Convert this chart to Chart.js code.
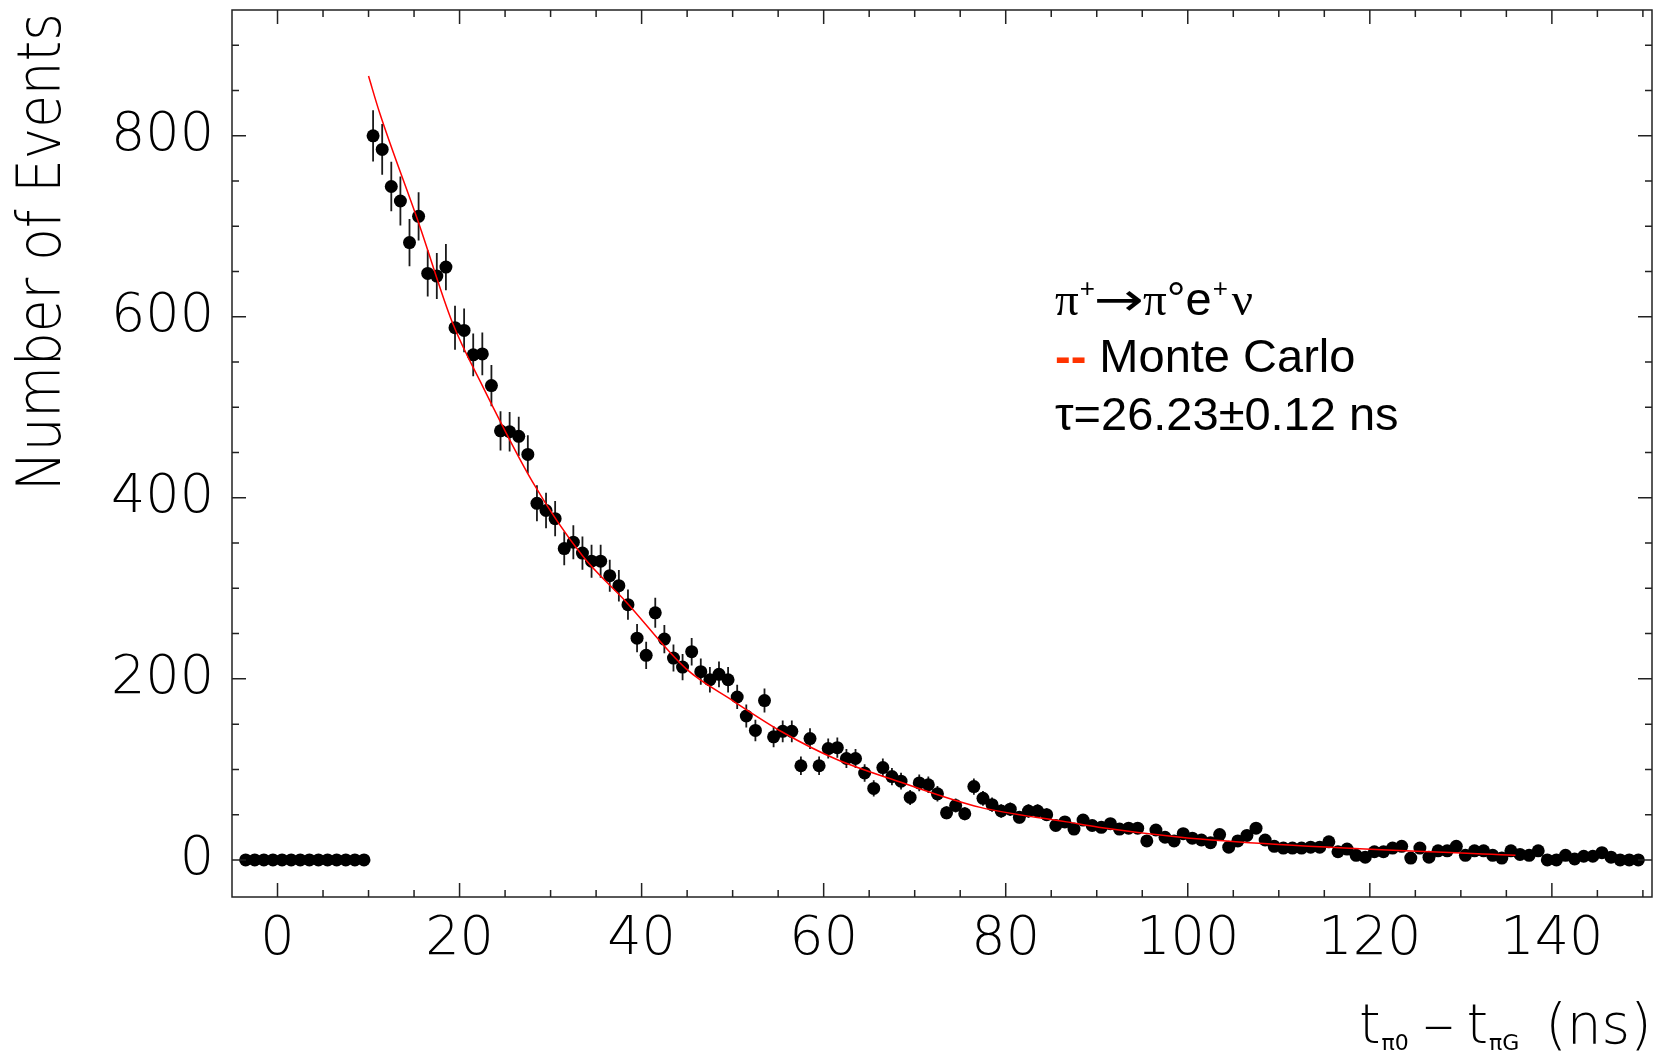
<!DOCTYPE html>
<html>
<head>
<meta charset="utf-8">
<script src="https://cdn.jsdelivr.net/npm/chart.js@4.4.1/dist/chart.umd.min.js"></script>
<style>
  html, body { margin: 0; padding: 0; background: #fff; }
  #wrap { width: 1663px; height: 1054px; }
</style>
</head>
<body>
<div id="wrap"><canvas id="decayChart" width="1663" height="1054"></canvas></div>
<script>
// histogram bins (ns), 1 ns wide
const binCenters = [
  -3.5, -2.5, -1.5, -0.5, 0.5, 1.5, 2.5, 3.5, 4.5, 5.5, 6.5, 7.5, 8.5, 9.5,
  10.5, 11.5, 12.5, 13.5, 14.5, 15.5, 16.5, 17.5, 18.5, 19.5,
  20.5, 21.5, 22.5, 23.5, 24.5, 25.5, 26.5, 27.5, 28.5, 29.5,
  30.5, 31.5, 32.5, 33.5, 34.5, 35.5, 36.5, 37.5, 38.5, 39.5,
  40.5, 41.5, 42.5, 43.5, 44.5, 45.5, 46.5, 47.5, 48.5, 49.5,
  50.5, 51.5, 52.5, 53.5, 54.5, 55.5, 56.5, 57.5, 58.5, 59.5,
  60.5, 61.5, 62.5, 63.5, 64.5, 65.5, 66.5, 67.5, 68.5, 69.5,
  70.5, 71.5, 72.5, 73.5, 74.5, 75.5, 76.5, 77.5, 78.5, 79.5,
  80.5, 81.5, 82.5, 83.5, 84.5, 85.5, 86.5, 87.5, 88.5, 89.5,
  90.5, 91.5, 92.5, 93.5, 94.5, 95.5, 96.5, 97.5, 98.5, 99.5,
  100.5, 101.5, 102.5, 103.5, 104.5, 105.5, 106.5, 107.5, 108.5, 109.5,
  110.5, 111.5, 112.5, 113.5, 114.5, 115.5, 116.5, 117.5, 118.5, 119.5,
  120.5, 121.5, 122.5, 123.5, 124.5, 125.5, 126.5, 127.5, 128.5, 129.5,
  130.5, 131.5, 132.5, 133.5, 134.5, 135.5, 136.5, 137.5, 138.5, 139.5,
  140.5, 141.5, 142.5, 143.5, 144.5, 145.5, 146.5, 147.5, 148.5, 149.5
];
const counts = [
  0, 0, 0, 0, 0, 0, 0, 0, 0, 0, 0, 0, 0, 0,
  800, 785, 744, 728, 682, 711, 648, 645, 655, 588,
  585, 558, 559, 524, 474, 473, 468, 448, 394, 386,
  377, 344, 351, 339, 330, 330, 314, 303, 282, 245,
  226, 273, 244, 223, 213, 230, 208, 199, 205, 199,
  180, 159, 143, 176, 136, 142, 142, 104, 134, 104,
  123, 124, 112, 112, 96, 79, 102, 92, 87, 69,
  85, 83, 73, 52, 60, 51, 81, 68, 61, 54,
  56, 47, 54, 54, 50, 38, 42, 34, 44, 38,
  36, 40, 34, 35, 35, 21, 33, 25, 21, 29,
  24, 22, 19, 28, 14, 21, 27, 35, 22, 15,
  13, 13, 13, 14, 14, 20, 9, 12, 5, 3,
  9, 9, 13, 15, 2, 13, 3, 10, 10, 15,
  5, 10, 10, 5, 2, 10, 6, 5, 10, 0,
  0, 5, 1, 4, 4, 8, 3, 0, 0, 0
];
// Monte Carlo curve
const fitTimes  = [10, 11.2, 15.6, 19.2, 22.5, 28, 33.5, 38.3, 44.9, 50, 55.5, 61.2, 68.4, 77.2, 86.7, 90.2, 99.2, 110, 136];
const fitValues = [866, 826, 701, 594, 524, 418, 336, 285, 211, 176, 141, 112, 86, 58, 42, 36, 25, 17, 5];

const xTickValues = [0, 20, 40, 60, 80, 100, 120, 140];
const yTickValues = [0, 200, 400, 600, 800];
const xMinorStep = 5;
const yMinorStep = 50;

const thinFont = "'DejaVu Sans ExtraLight', 'DejaVu Sans', sans-serif";
const sansFont = "'Liberation Sans', Arial, sans-serif";
const serifFont = "'Liberation Serif', 'Times New Roman', serif";

// frame with inward ticks on all four sides
const framePlugin = {
  id: 'frame',
  afterDatasetsDraw(chart) {
    const { ctx, chartArea: a, scales: { x, y } } = chart;
    ctx.save();
    ctx.strokeStyle = '#222';
    ctx.lineWidth = 1.5;
    ctx.strokeRect(a.left, a.top, a.right - a.left, a.bottom - a.top);
    ctx.beginPath();
    for (let v = Math.ceil(x.min / xMinorStep) * xMinorStep; v <= x.max; v += xMinorStep) {
      const px = x.getPixelForValue(v);
      if (px <= a.left + 2 || px >= a.right - 2) continue;
      const len = xTickValues.includes(v) ? 14 : 7;
      ctx.moveTo(px, a.bottom); ctx.lineTo(px, a.bottom - len);
      ctx.moveTo(px, a.top); ctx.lineTo(px, a.top + len);
    }
    for (let v = Math.ceil(y.min / yMinorStep) * yMinorStep; v <= y.max; v += yMinorStep) {
      const py = y.getPixelForValue(v);
      if (py <= a.top + 2 || py >= a.bottom - 2) continue;
      const len = yTickValues.includes(v) ? 14 : 7;
      ctx.moveTo(a.left, py); ctx.lineTo(a.left + len, py);
      ctx.moveTo(a.right, py); ctx.lineTo(a.right - len, py);
    }
    ctx.stroke();
    ctx.restore();
  }
};

// sqrt(N) error bars
const errorBarPlugin = {
  id: 'errorBars',
  beforeDatasetsDraw(chart) {
    const { ctx, scales: { x, y } } = chart;
    ctx.save();
    ctx.strokeStyle = '#1a1a1a';
    ctx.lineWidth = 1.8;
    ctx.beginPath();
    binCenters.forEach((t, i) => {
      const n = counts[i];
      if (n <= 0) return;
      const err = Math.sqrt(n);
      const px = x.getPixelForValue(t);
      ctx.moveTo(px, y.getPixelForValue(n - err));
      ctx.lineTo(px, y.getPixelForValue(n + err));
    });
    ctx.stroke();
    ctx.restore();
  }
};

// draws a row of text pieces one after another; sx stretches a piece sideways
function drawRuns(ctx, x, baseline, runs) {
  runs.forEach(r => {
    ctx.font = r.font;
    ctx.fillStyle = r.color || '#000';
    const sx = r.sx || 1;
    x += r.dx || 0;
    ctx.save();
    ctx.translate(x, baseline + (r.dy || 0));
    ctx.scale(sx, 1);
    ctx.fillText(r.text, 0, 0);
    ctx.restore();
    x += ctx.measureText(r.text).width * sx;
  });
  return x;
}

const textPlugin = {
  id: 'texts',
  afterDraw(chart) {
    const ctx = chart.ctx;
    ctx.save();
    ctx.textAlign = 'left';
    ctx.textBaseline = 'alphabetic';

    // y axis title, squeezed to the reference length
    ctx.save();
    ctx.translate(60, 491);
    ctx.rotate(-Math.PI / 2);
    ctx.font = `200 60px ${thinFont}`;
    const w = ctx.measureText('Number of Events').width;
    ctx.scale(478 / w, 1);
    ctx.fillStyle = '#000';
    ctx.fillText('Number of Events', 0, 0);
    ctx.restore();

    // x axis title
    const big = `200 55px ${thinFont}`;
    const sub = `22px 'DejaVu Sans', sans-serif`;
    drawRuns(ctx, 1359, 1043, [
      { text: 't', font: big },
      { text: 'π0', font: sub, dy: 7, dx: 1 },
      { text: '–', font: big, dx: 14, sx: 1.15 },
      { text: 't', font: big, dx: 12 },
      { text: 'πG', font: sub, dy: 7, dx: 1 },
      { text: '(ns)', font: big, dx: 26 }
    ]);

    // annotation
    const f = `47px ${sansFont}`;
    const fs = `47px ${serifFont}`;
    const sup = `26px ${sansFont}`;
    drawRuns(ctx, 1055, 315, [
      { text: 'π', font: fs },
      { text: '+', font: sup, dy: -18, dx: 1 },
      { text: '→', font: `46px 'DejaVu Sans', sans-serif`, sx: 1.3, dx: -1 },
      { text: 'π', font: fs, dx: -1 },
      { text: '°', font: f },
      { text: 'e', font: f },
      { text: '+', font: sup, dy: -18, dx: 1 },
      { text: 'ν', font: fs, dx: 4 }
    ]);
    drawRuns(ctx, 1055, 372, [
      { text: '--', font: `bold 47px ${sansFont}`, color: '#ff3300' },
      { text: ' Monte Carlo', font: f }
    ]);
    drawRuns(ctx, 1055, 430, [
      { text: 'τ=26.23±0.12 ns', font: f }
    ]);
    ctx.restore();
  }
};

const ctx = document.getElementById('decayChart').getContext('2d');
new Chart(ctx, {
  data: {
    datasets: [
      {
        type: 'line',
        label: 'Monte Carlo',
        data: fitTimes.map((t, i) => ({ x: t, y: fitValues[i] })),
        borderColor: '#ff0000',
        borderWidth: 1.5,
        pointRadius: 0,
        cubicInterpolationMode: 'monotone',
        fill: false,
        order: 0
      },
      {
        type: 'scatter',
        label: 'Data',
        data: binCenters.map((t, i) => ({ x: t, y: counts[i] })),
        backgroundColor: '#000',
        borderWidth: 0,
        pointRadius: 6.5,
        pointHoverRadius: 6.5,
        order: 1
      }
    ]
  },
  options: {
    responsive: false,
    animation: false,
    events: [],
    layout: { padding: { left: 0, right: 11, top: 10, bottom: 0 } },
    plugins: { legend: { display: false }, tooltip: { enabled: false } },
    scales: {
      x: {
        type: 'linear',
        position: 'bottom',
        min: -5,
        max: 151,
        grid: { display: false },
        border: { display: false },
        ticks: {
          padding: 3,
          color: '#000',
          maxRotation: 0,
          font: { family: thinFont, size: 54, weight: 200 }
        },
        afterBuildTicks(scale) { scale.ticks = xTickValues.map(v => ({ value: v })); },
        afterFit(scale) { scale.height = 157; scale.paddingLeft = 0; scale.paddingRight = 0; }
      },
      y: {
        type: 'linear',
        min: -41,
        max: 939,
        grid: { display: false },
        border: { display: false },
        ticks: {
          padding: 10,
          color: '#000',
          font: { family: thinFont, size: 54, weight: 200 }
        },
        afterBuildTicks(scale) { scale.ticks = yTickValues.map(v => ({ value: v })); },
        afterFit(scale) { scale.width = 232; scale.paddingTop = 0; scale.paddingBottom = 0; }
      }
    }
  },
  plugins: [errorBarPlugin, framePlugin, textPlugin]
});
</script>
</body>
</html>
